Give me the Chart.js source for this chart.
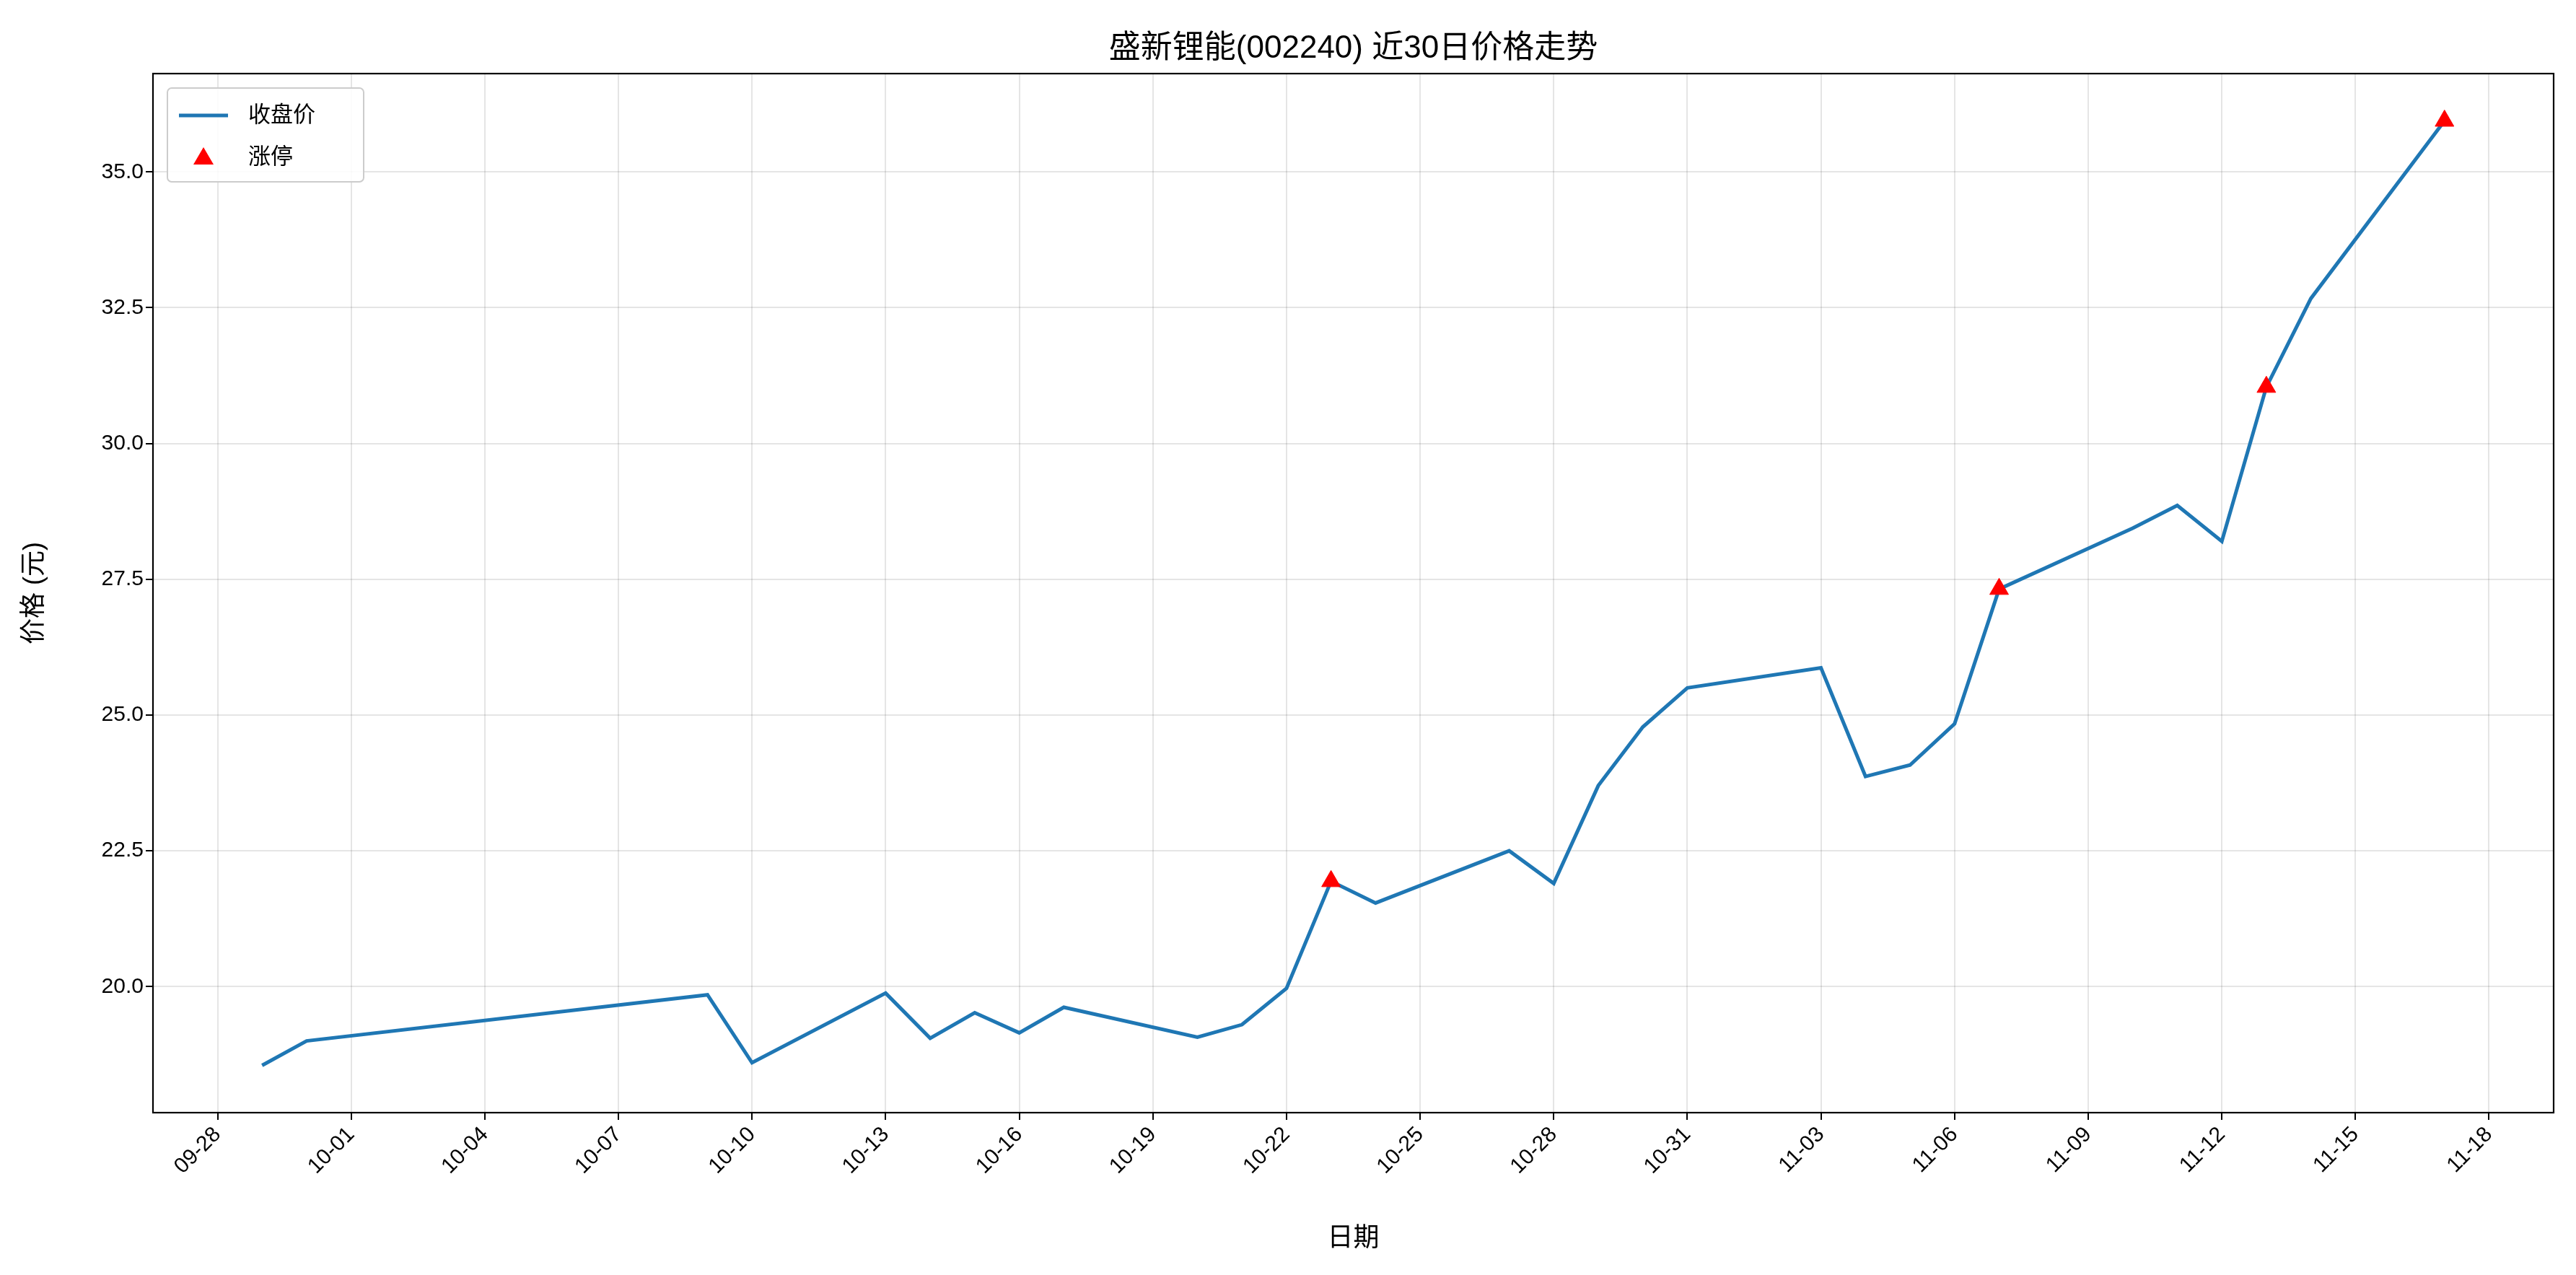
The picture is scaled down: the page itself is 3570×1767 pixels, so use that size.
<!DOCTYPE html>
<html>
<head>
<meta charset="utf-8">
<script src="https://cdn.jsdelivr.net/npm/chart.js@4/dist/chart.umd.min.js"></script>
<style>
  html, body { margin: 0; padding: 0; background: #fff; }
  #wrap { width: 3570px; height: 1767px; }
</style>
</head>
<body>
<div id="wrap"><canvas id="priceChart"></canvas></div>
<script>
const FONT = '"Liberation Sans", "Noto Sans CJK SC", sans-serif';

// 交易日 (以 09-28 为第 0 天)
const dates = ['09-29','09-30','10-09','10-10','10-13','10-14','10-15','10-16','10-17','10-20',
               '10-21','10-22','10-23','10-24','10-27','10-28','10-29','10-30','10-31','11-03',
               '11-04','11-05','11-06','11-07','11-10','11-11','11-12','11-13','11-14','11-17'];
const closePrices = [18.55, 19.0, 19.85, 18.6, 19.88, 19.05, 19.52, 19.15, 19.62, 19.07,
                     19.3, 19.97, 21.94, 21.54, 22.5, 21.9, 23.7, 24.78, 25.5, 25.87,
                     23.87, 24.08, 24.84, 27.32, 28.44, 28.86, 28.2, 31.04, 32.67, 35.94];
const limitUpDates = ['10-23','11-07','11-13','11-17'];
const tickLabels = ['09-28','10-01','10-04','10-07','10-10','10-13','10-16','10-19','10-22',
                    '10-25','10-28','10-31','11-03','11-06','11-09','11-12','11-15','11-18'];

const monthStart = { '09': -28, '10': 2, '11': 33 };
const dayIndex = d => monthStart[d.slice(0, 2)] + parseInt(d.slice(3), 10);

const lineData = dates.map((d, i) => ({ x: dayIndex(d), y: closePrices[i] }));
const limitData = limitUpDates.map(d => ({ x: dayIndex(d), y: closePrices[dates.indexOf(d)] }));
const tickMap = {};
tickLabels.forEach(t => { tickMap[dayIndex(t)] = t; });

const decor = {
    id: 'decor',
    afterDraw(chart) {
        const { ctx, chartArea: a } = chart;
        ctx.save();
        ctx.strokeStyle = '#000';
        ctx.lineWidth = 2.2;
        ctx.strokeRect(a.left, a.top, a.right - a.left, a.bottom - a.top);
        // 标题
        ctx.fillStyle = '#000';
        ctx.font = '44px ' + FONT;
        ctx.textAlign = 'center';
        ctx.textBaseline = 'bottom';
        ctx.fillText('盛新锂能(002240) 近30日价格走势', (a.left + a.right) / 2, a.top - 12);
        // 图例
        const lx = a.left + 20, ly = a.top + 20;
        ctx.fillStyle = 'rgba(255,255,255,0.85)';
        ctx.strokeStyle = '#ccc';
        ctx.lineWidth = 2;
        ctx.beginPath();
        ctx.roundRect(lx, ly, 272, 130, 6);
        ctx.fill(); ctx.stroke();
        ctx.strokeStyle = '#1f77b4';
        ctx.lineWidth = 5;
        ctx.beginPath();
        ctx.moveTo(lx + 16, ly + 38); ctx.lineTo(lx + 84, ly + 38);
        ctx.stroke();
        ctx.fillStyle = 'red';
        ctx.beginPath();
        ctx.moveTo(lx + 50, ly + 82); ctx.lineTo(lx + 64, ly + 106); ctx.lineTo(lx + 36, ly + 106);
        ctx.closePath(); ctx.fill();
        ctx.fillStyle = '#000';
        ctx.font = '31px ' + FONT;
        ctx.textAlign = 'left';
        ctx.textBaseline = 'middle';
        ctx.fillText('收盘价', lx + 112, ly + 38);
        ctx.fillText('涨停', lx + 112, ly + 96);
        ctx.restore();
    }
};

new Chart(document.getElementById('priceChart').getContext('2d'), {
    type: 'scatter',
    data: {
        datasets: [{
            label: '涨停',
            data: limitData,
            pointStyle: 'triangle',
            pointRadius: 15,
            backgroundColor: 'red',
            borderColor: 'red',
            order: 0
        }, {
            label: '收盘价',
            data: lineData,
            showLine: true,
            borderColor: '#1f77b4',
            borderWidth: 5,
            pointRadius: 0,
            tension: 0,
            order: 1
        }]
    },
    options: {
        responsive: true,
        maintainAspectRatio: false,
        animation: false,
        devicePixelRatio: 1,
        layout: { padding: { top: 102, right: 31, left: 26, bottom: 28 } },
        scales: {
            x: {
                type: 'linear',
                min: -1.45,
                max: 52.45,
                afterBuildTicks: s => { s.ticks = tickLabels.map(t => ({ value: dayIndex(t) })); },
                afterFit: s => { s.height = 197; },
                ticks: {
                    callback: v => tickMap[v] || '',
                    maxRotation: 45, minRotation: 45,
                    color: '#000',
                    font: { size: 30, family: FONT }
                },
                grid: { color: 'rgba(0,0,0,0.1)', lineWidth: 2, tickColor: '#000', tickLength: 10 },
                border: { display: false },
                title: { display: true, text: '日期', color: '#000', font: { size: 36, family: FONT }, padding: 0 }
            },
            y: {
                min: 17.68,
                max: 36.81,
                afterBuildTicks: s => { s.ticks = [20, 22.5, 25, 27.5, 30, 32.5, 35].map(v => ({ value: v })); },
                afterFit: s => { s.width = 186; },
                ticks: {
                    callback: v => v.toFixed(1),
                    color: '#000',
                    font: { size: 30, family: FONT }
                },
                grid: { color: 'rgba(0,0,0,0.1)', lineWidth: 2, tickColor: '#000', tickLength: 10 },
                border: { display: false },
                title: { display: true, text: '价格 (元)', color: '#000', font: { size: 36, family: FONT }, padding: 0 }
            }
        },
        plugins: {
            legend: { display: false },
            tooltip: { enabled: false }
        }
    },
    plugins: [decor]
});
</script>
</body>
</html>
